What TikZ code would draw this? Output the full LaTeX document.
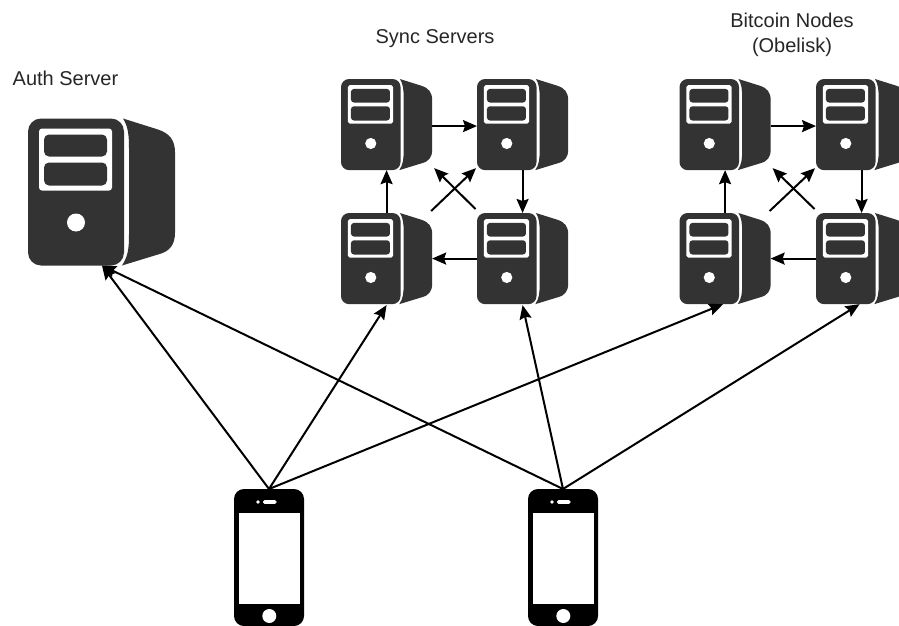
\documentclass[tikz,border=0pt]{standalone}
\usepackage{fontspec}
\setmainfont{Liberation Sans}
\usetikzlibrary{arrows.meta}
\definecolor{srv}{HTML}{333333}
\tikzset{
  srvbox/.style={inner sep=0pt,outer sep=0pt,minimum width=#1,minimum height=#1},
  phonebox/.style={inner sep=0pt,outer sep=0pt,minimum width=70pt,minimum height=137pt},
  link/.style={line width=2pt,-{Stealth[length=14pt,width=12pt,inset=2pt]}},
  lbl/.style={inner sep=0pt,font=\fontsize{20}{25}\selectfont,align=center,text=black!85}
}
\newcommand{\serverunit}[4]{%
  \node[srvbox=#4*147pt] (#1) at ({#2+#4*73.5},{#3+#4*73.5}) {};
  \begin{scope}[shift={(#2,#3)},scale=#4]
    \fill[srv] (95,0) -- (130,11) .. controls (142,15) and (147,22) .. (147,34)
      -- (147,114) .. controls (147,126) and (142,133) .. (130,136) -- (94,147)
      .. controls (100,138) and (101,130) .. (101,116) -- (101,30) .. controls (101,16) and (100,8) .. (95,0) -- cycle;
    \fill[srv,rounded corners=#4*13pt] (0,0) rectangle (96,147);
    \fill[white,rounded corners=#4*3pt] (11,10) rectangle (84,72);
    \fill[srv,rounded corners=#4*5pt] (16,16) rectangle (79,38);
    \fill[srv,rounded corners=#4*5pt] (16,44) rectangle (79,67);
    \fill[white] (48,104) circle (9);
  \end{scope}}
\newcommand{\phoneunit}[3]{%
  \node[phonebox] (#1) at ({#2+35},{#3+68.5}) {};
  \begin{scope}[shift={(#2,#3)}]
    \fill[black,rounded corners=10pt] (0,0) rectangle (70,137);
    \fill[white] (5,24) rectangle (66,115);
    \fill[white] (24,13) circle (1.8);
    \fill[white,rounded corners=1.5pt] (29,11.2) rectangle (42.5,14.8);
    \fill[white] (35.3,127) circle (7);
  \end{scope}}
\begin{document}
\begin{tikzpicture}[x=1pt,y=-1pt]
\useasboundingbox (0,0) rectangle (899,626);
\node[lbl] (tauth) at (65.5,78) {Auth Server};
\node[lbl] (tsync) at (435,39) {Sync Servers};
\node[lbl] (tbtc) at (792,34.5) {Bitcoin Nodes\\(Obelisk)};
\serverunit{auth}{28}{118.5}{1}
\serverunit{sa}{341}{79}{.62}
\serverunit{sb}{477}{79}{.62}
\serverunit{sc}{341}{213}{.62}
\serverunit{sd}{477}{213}{.62}
\serverunit{ba}{679.5}{79}{.62}
\serverunit{bb}{816}{79}{.62}
\serverunit{bc}{679.5}{213}{.62}
\serverunit{bd}{816}{213}{.62}
\phoneunit{pa}{234}{489}
\phoneunit{pb}{528}{489}
\foreach \a/\b/\c/\d in {sa/sb/sc/sd,ba/bb/bc/bd}{
  \draw[link] ([yshift=-1.5pt]\a.east) -- ([yshift=-1.5pt]\b.west);
  \draw[link] (\b.south) -- (\d.north);
  \draw[link] (\d.west) -- (\c.east);
  \draw[link] (\c.north) -- (\a.south);
  \draw[link] ([xshift=-1pt,yshift=2pt]\c.north east) -- ([xshift=-1pt,yshift=2pt]\b.south west);
  \draw[link] ([xshift=-1.5pt,yshift=4pt]\d.north west) -- ([xshift=2pt,yshift=2pt]\a.south east);
}
\draw[link] (pa.north) -- ([xshift=74pt]auth.south west);
\draw[link] (pb.north) -- ([xshift=74pt]auth.south west);
\draw[link] (pa.north) -- ([yshift=-1pt]sc.south);
\draw[link] (pa.north) -- ([xshift=-2pt]bc.south);
\draw[link] (pb.north) -- ([yshift=-1pt]sd.south);
\draw[link] (pb.north) -- ([xshift=-2pt]bd.south);
\end{tikzpicture}
\end{document}
